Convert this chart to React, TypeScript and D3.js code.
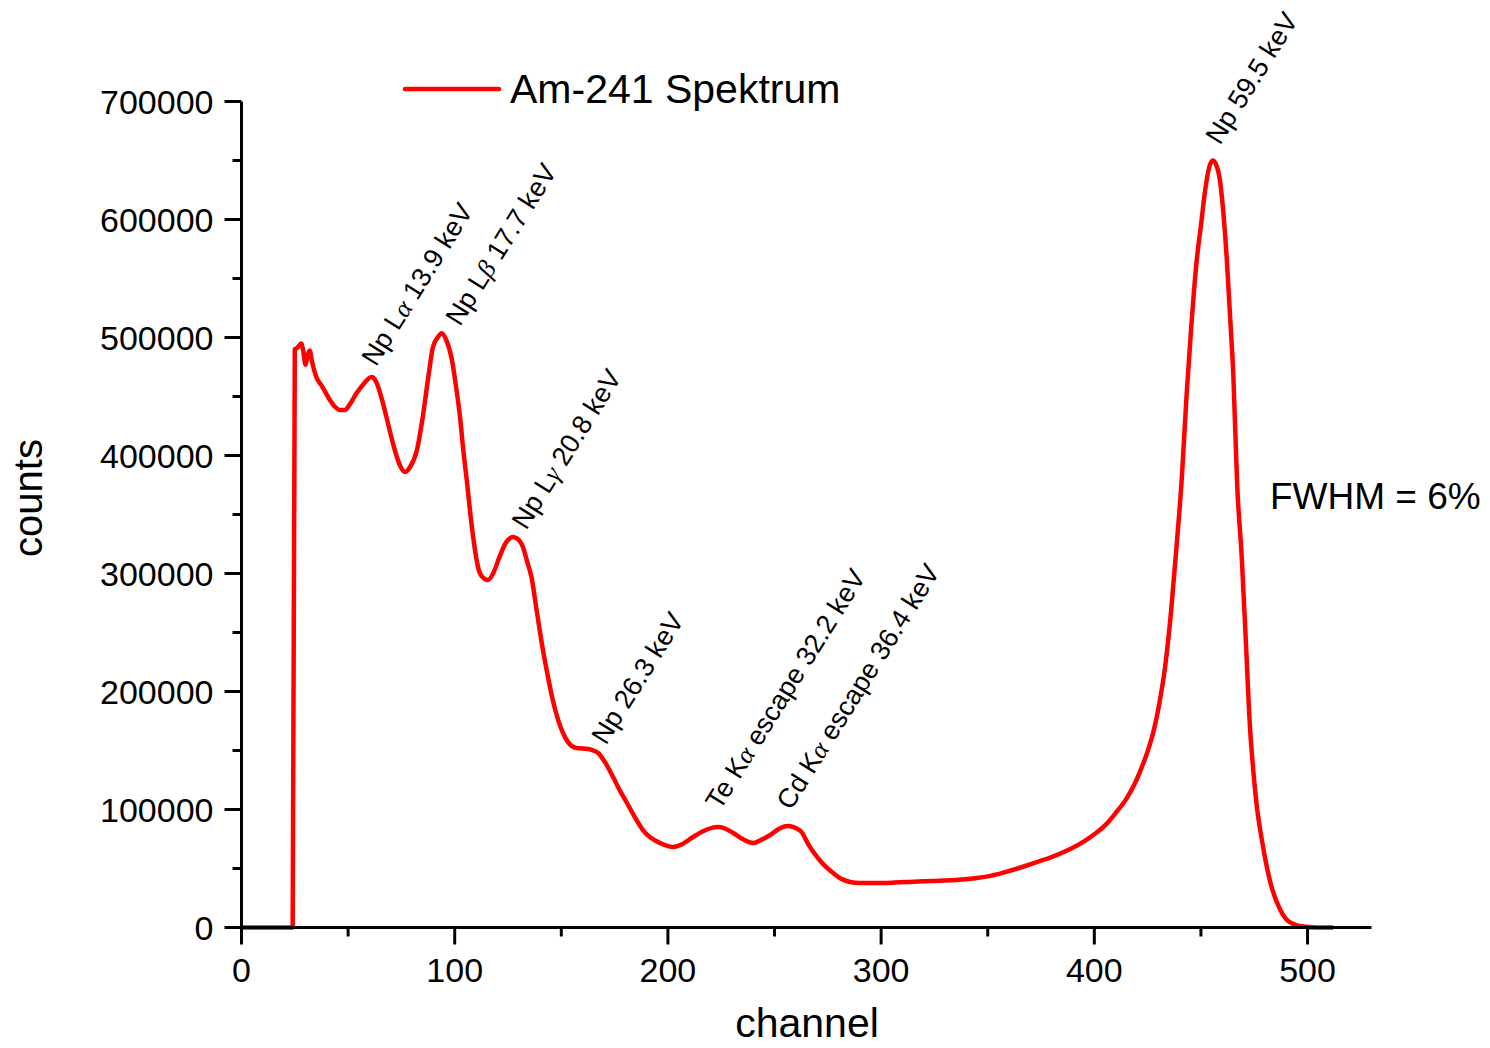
import React from "react";
import * as d3 from "d3";

const channels = [
  0, 10, 20, 24, 25, 26, 27, 28, 29, 30, 31, 32, 33, 35, 38, 41.5, 44, 46, 48.5, 51, 54, 57, 61, 63, 66.4, 69, 71, 74, 76.7, 79,
  82.3, 85, 87.5, 89.8, 92, 94, 96, 98.7, 100.5, 102.5, 104, 105.8, 107.5, 109.5, 111, 113, 115.6, 118, 121, 124, 127.3, 129,
  132, 134, 136, 138.5, 141.4, 144, 146, 148.5, 150.8, 153, 157, 162.7, 165, 167.3, 170.5, 174.3, 177.5, 180.8, 184.5, 188.3,
  192, 196.3, 200, 202.5, 206, 211.8, 217, 221, 223.5, 226, 230.6, 235, 240, 244, 248, 252, 256, 259, 263, 266, 270, 274,
  277.5, 281, 285.5, 290, 296, 305, 315, 324, 335, 345, 350, 357, 364, 372, 379, 387, 394.8, 400, 405, 410, 415, 419,
  422.5, 425.5, 428, 430.5, 433.2, 436, 438.6, 441, 443.3, 445.5, 448, 450, 452, 454, 455.5, 457, 459, 460.5, 462, 463.6,
  465.2, 467, 469.1, 471, 473, 474.7, 476.2, 478.5, 480.9, 483.5, 487, 490, 493.3, 497, 504, 512,
];

const counts = [
  0, 0, 0, 0, 490000, 491000, 493000, 495000, 488000, 477000, 485000, 489000, 480000, 467000, 458000, 447000, 441000, 438600,
  438600, 444000, 453000, 460000, 466500, 463000, 444000, 425000, 410500, 393000, 386000, 390000, 404700, 432600, 465000,
  492000, 500000, 503700, 498000, 481000, 460000, 432600, 405000, 376700, 348000, 320000, 305000, 297000, 294500, 300000,
  314000, 326000, 331000, 330000, 322500, 310000, 297000, 268000, 235000, 210000, 192800, 176000, 164800, 157500, 152100,
  151300, 150000, 147900, 140000, 127500, 116000, 105500, 93500, 82600, 76000, 71600, 69000, 68200, 70000, 76700, 82000,
  84600, 85200, 84500, 80100, 75000, 71600, 74500, 78400, 83500, 86000, 85000, 80100, 70000, 59700, 51500, 46200, 41500,
  38600, 37800, 37700, 38000, 38800, 39400, 40200, 41900, 43300, 46300, 50000, 54800, 59000, 65000, 72500, 79000, 86500,
  97000, 109000, 122000, 137000, 152000, 168000, 190000, 221000, 268000, 323700, 380000, 452000, 510000, 565000, 595000,
  625000, 645000, 650000, 647000, 632000, 606000, 570000, 520000, 467600, 375000, 315000, 245000, 170000, 130000, 103000,
  75000, 51500, 32000, 15700, 7000, 3000, 1000, 0, 0,
];

const xTicks = [0, 100, 200, 300, 400, 500];
const xMinorTicks = [50, 150, 250, 350, 450];
const yTicks = [0, 100000, 200000, 300000, 400000, 500000, 600000, 700000];
const yMinorTicks = [50000, 150000, 250000, 350000, 450000, 550000, 650000];

const annotationPrefix = ["Np L", "Np L", "Np L", "Np 26.3 keV", "Te K", "Cd K", "Np 59.5 keV"];
const annotationGreek = ["α", "β", "γ", "", "α", "α", ""];
const annotationSuffix = [" 13.9 keV", " 17.7 keV", " 20.8 keV", "", " escape 32.2 keV", " escape 36.4 keV", ""];
const annotationChannel = [59.3, 98.7, 129.8, 167.2, 220.7, 254, 455.2];
const annotationCounts = [478000, 512000, 339500, 157200, 102000, 102000, 665600];

const seriesName = "Am-241 Spektrum";
const noteText = "FWHM = 6%";
const xTitle = "channel";
const yTitle = "counts";

const FONT = "'Liberation Sans', Arial, sans-serif";

export default function App() {
  const W = 1490;
  const H = 1048;
  const x = d3.scaleLinear().domain([0, 530]).range([241.5, 1371.5]);
  const y = d3.scaleLinear().domain([0, 700000]).range([927.5, 101.5]);
  const data = channels.map((c, i) => [c, counts[i]] as [number, number]);
  const line = d3
    .line<[number, number]>()
    .x((d) => x(d[0]))
    .y((d) => y(d[1]))
    .curve(d3.curveMonotoneX);

  const x0 = x(0);
  const y0 = y(0);

  return (
    <svg
      width={W}
      height={H}
      style={{ position: "absolute", left: 0, top: 0, background: "#fff" }}
      fontFamily={FONT}
    >
      <rect width={W} height={H} fill="#fff" />
      {/* data */}
      <path d={line(data) || ""} fill="none" stroke="#ff0000" strokeWidth={4.5} strokeLinejoin="round" />

      {/* axes */}
      <line x1={x0} x2={x0} y1={y(700000)} y2={y0 + 1.5} stroke="#000" strokeWidth={3} />
      <line x1={x0 - 1.5} x2={x(530)} y1={y0} y2={y0} stroke="#000" strokeWidth={3} />
      {yTicks.map((t) => (
        <g key={"yt" + t}>
          <line x1={x0 - 17} x2={x0} y1={y(t)} y2={y(t)} stroke="#000" strokeWidth={3} />
          <text x={x0 - 28} y={y(t)} dy="0.36em" textAnchor="end" fontSize={34} fill="#000">
            {t}
          </text>
        </g>
      ))}
      {yMinorTicks.map((t) => (
        <line key={"ym" + t} x1={x0 - 9} x2={x0} y1={y(t)} y2={y(t)} stroke="#000" strokeWidth={3} />
      ))}
      {xTicks.map((t) => (
        <g key={"xt" + t}>
          <line x1={x(t)} x2={x(t)} y1={y0} y2={y0 + 17} stroke="#000" strokeWidth={3} />
          <text x={x(t)} y={982} textAnchor="middle" fontSize={34} fill="#000">
            {t}
          </text>
        </g>
      ))}
      {xMinorTicks.map((t) => (
        <line key={"xm" + t} x1={x(t)} x2={x(t)} y1={y0} y2={y0 + 9} stroke="#000" strokeWidth={3} />
      ))}

      {/* axis titles */}
      <text x={807} y={1037} textAnchor="middle" fontSize={41} fill="#000">
        {xTitle}
      </text>
      <text transform={`translate(42,498) rotate(-90)`} textAnchor="middle" fontSize={40} fill="#000">
        {yTitle}
      </text>

      {/* legend */}
      <line x1={405} x2={499} y1={89} y2={89} stroke="#ff0000" strokeWidth={4.5} strokeLinecap="round" />
      <text x={510} y={103} fontSize={41} fill="#000">
        {seriesName}
      </text>

      {/* FWHM note */}
      <text x={1270} y={509} fontSize={37} fill="#000">
        {noteText}
      </text>

      {/* annotations */}
      {annotationPrefix.map((p, i) => (
        <text
          key={"a" + i}
          transform={`translate(${x(annotationChannel[i]) + 8},${y(annotationCounts[i]) + 4}) rotate(-58)`}
          fontSize={27}
          fill="#000"
        >
          {p}
          {annotationGreek[i] ? (
            <tspan fontFamily="'Liberation Serif', 'Times New Roman', serif" fontStyle="italic" fontSize={26}>
              {annotationGreek[i]}
            </tspan>
          ) : null}
          {annotationSuffix[i]}
        </text>
      ))}
    </svg>
  );
}
